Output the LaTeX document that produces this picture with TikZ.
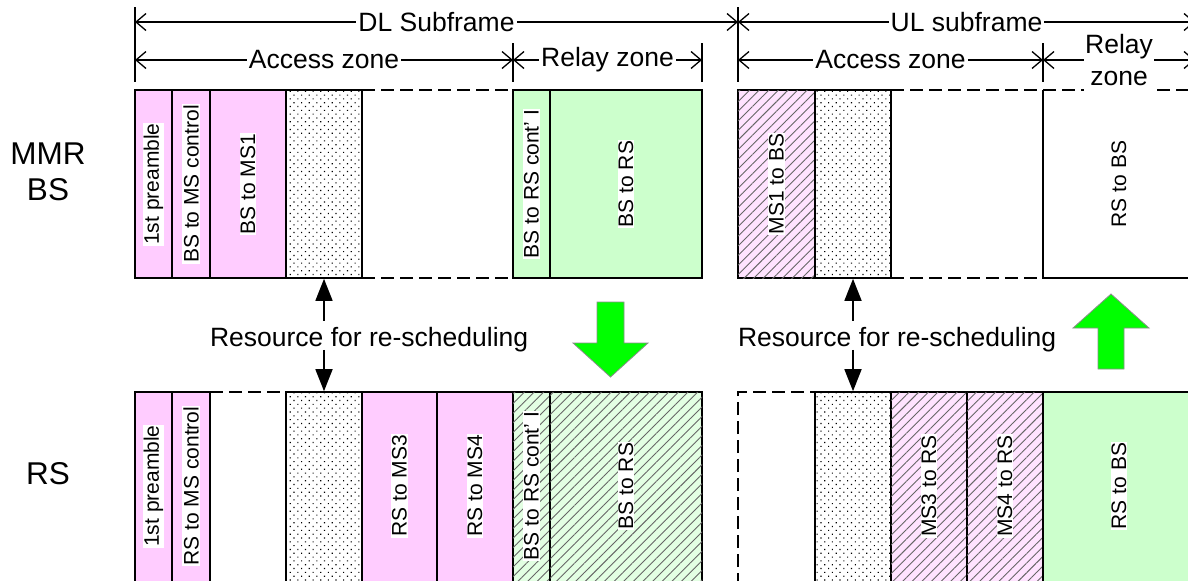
\documentclass[tikz,border=0pt]{standalone}
\usepackage{fontspec}
\setmainfont{Liberation Sans}
\usetikzlibrary{arrows.meta}
\usetikzlibrary{patterns.meta}
\definecolor{slotpink}{HTML}{FFCCFF}
\definecolor{slotgreen}{HTML}{CCFFCC}
\definecolor{bigarrow}{HTML}{00FF00}

\begin{document}
\begin{tikzpicture}[x=0.5pt, y=-0.5pt]
                \tikzstyle{slot} = [draw=black, line width=0.8pt, fill=#1]
                \tikzstyle{hatched} = [slot=#1!55!white, postaction={pattern={Lines[angle=45, distance=3.4pt, line width=0.45pt]}, pattern color=black!60}]
                \tikzstyle{spare} = [draw=black, line width=0.8pt, fill=white, inner sep=0pt, minimum width=38pt, postaction={pattern={Dots[angle=45, distance=2.7pt, radius=0.4pt]}, pattern color=black}]
                \tikzstyle{gap} = [draw=black, line width=0.8pt, dash pattern=on 6.5pt off 3pt]
                \tikzstyle{lbl} = [rotate=90, fill=white, inner sep=0.4pt, font=\fontsize{10.5}{12}\selectfont]
                \tikzstyle{dim} = [line width=0.65pt, {Straight Barb[length=5pt, width=8.5pt]}-{Straight Barb[length=5pt, width=8.5pt]}]
                \tikzstyle{dimtxt} = [fill=white, inner xsep=1pt, inner ysep=0pt, font=\fontsize{13.25}{16}\selectfont]
                \tikzstyle{restxt} = [anchor=west, font=\fontsize{13.25}{16}\selectfont]
                \tikzstyle{res} = [line width=0.8pt, -{Triangle[length=11pt, width=8.5pt]}]
                \tikzstyle{turn} = [fill=bigarrow, draw=black!45, line width=0.4pt]
                \useasboundingbox (0,0) rectangle (1188,580);
                \clip (0,0) rectangle (1188,580);
                \node[align=center, font=\fontsize{15.75}{18}\selectfont] (mmr) at (48,172) {MMR\\BS};
                \node[font=\fontsize{15.75}{18}\selectfont] (rs) at (48,474) {RS};
                \draw[gap] (362,90) -- (513,90);
                \draw[gap] (362,278) -- (513,278);
                \draw[slot=slotpink] (135,90) rectangle (172,278);
                \draw[slot=slotpink] (172,90) rectangle (210,278);
                \draw[slot=slotpink] (210,90) rectangle (286,278);
                \node[spare, minimum height=94pt] (bsfreedl) at (324,184) {};
                \draw[slot=slotgreen] (513,90) rectangle (550,278);
                \draw[slot=slotgreen] (550,90) rectangle (702,278);
                \draw[hatched=slotpink] (738,90) rectangle (815,278);
                \node[spare, minimum height=94pt] (bsfreeul) at (853,184) {};
                \draw[gap] (891,90) -- (1200,90);
                \draw[gap] (891,278) -- (1043,278);
                \draw[line width=0.8pt] (1043,90) -- (1043,278) -- (1200,278);
                \node[lbl] (bspre) at (153.5,184) {1st preamble};
                \node[lbl] (bsctl) at (191,184) {BS to MS control};
                \node[lbl] (bsms1) at (248,184) {BS to MS1};
                \node[lbl] (bsrsc) at (531.5,184) {BS to RS cont’ I};
                \node[lbl] (bsrs) at (626,184) {BS to RS};
                \node[lbl] (ms1bs) at (776.5,184) {MS1 to BS};
                \node[lbl] (rsbsup) at (1119,184) {RS to BS};
                \draw[gap] (210,392) -- (286,392);
                \draw[slot=slotpink] (135,392) rectangle (172,586);
                \draw[slot=slotpink] (172,392) rectangle (210,586);
                \node[spare, minimum height=97pt] (rsfreedl) at (324,489) {};
                \draw[slot=slotpink] (362,392) rectangle (437,586);
                \draw[slot=slotpink] (437,392) rectangle (513,586);
                \draw[hatched=slotgreen] (513,392) rectangle (550,586);
                \draw[hatched=slotgreen] (550,392) rectangle (702,586);
                \draw[gap] (738,586) -- (738,392) -- (815,392);
                \node[spare, minimum height=97pt] (rsfreeul) at (853,489) {};
                \draw[hatched=slotpink] (891,392) rectangle (967,586);
                \draw[hatched=slotpink] (967,392) rectangle (1043,586);
                \draw[slot=slotgreen] (1043,392) rectangle (1200,586);
                \node[lbl] (rspre) at (153.5,486) {1st preamble};
                \node[lbl] (rsctl) at (191,486) {RS to MS control};
                \node[lbl] (rsms3) at (399.5,486) {RS to MS3};
                \node[lbl] (rsms4) at (475,486) {RS to MS4};
                \node[lbl] (rsrsc) at (531.5,486) {BS to RS cont’ I};
                \node[lbl] (rsrs) at (626,486) {BS to RS};
                \node[lbl] (ms3rs) at (929,486) {MS3 to RS};
                \node[lbl] (ms4rs) at (1005,486) {MS4 to RS};
                \node[lbl] (rsbsdn) at (1119,486) {RS to BS};
                \node[restxt] (resdl) at (203,340) {Resource for re-scheduling};
                \node[restxt] (resul) at (731,340) {Resource for re-scheduling};
                \draw[res] (resdl.north -| bsfreedl.south) -- (bsfreedl.south);
                \draw[res] ([yshift=-1.5pt]resdl.base -| rsfreedl.north) -- (rsfreedl.north);
                \draw[res] (resul.north -| bsfreeul.south) -- (bsfreeul.south);
                \draw[res] ([yshift=-1.5pt]resul.base -| rsfreeul.north) -- (rsfreeul.north);
                \draw[turn] (597,302) -- (624,302) -- (624,343) -- (648,343) -- (610.5,377) -- (573,343) -- (597,343) -- cycle;
                \draw[turn] (1111,294) -- (1149,328) -- (1124,328) -- (1124,369) -- (1098,369) -- (1098,328) -- (1073,328) -- cycle;
                \draw[line width=0.65pt] (135,7) -- (135,82);
                \draw[line width=0.65pt] (738,7) -- (738,82);
                \draw[line width=0.65pt] (1195,7) -- (1195,82);
                \draw[line width=0.65pt] (513,43) -- (513,82);
                \draw[line width=0.65pt] (702,43) -- (702,82);
                \draw[line width=0.65pt] (1043,43) -- (1043,82);
                \draw[dim] (135,22) -- (738,22) node[midway, dimtxt] (dlsub) {DL Subframe};
                \draw[dim] (738,22) -- (1195,22) node[midway, dimtxt] (ulsub) {UL subframe};
                \draw[dim] (135,60) -- (513,60) node[midway, dimtxt] (dlacc) {Access zone};
                \draw[dim] (513,60) -- (702,60) node[midway, dimtxt] (dlrel) {Relay zone};
                \draw[dim] (738,60) -- (1043,60) node[midway, dimtxt] (ulacc) {Access zone};
                \draw[dim] (1043,60) -- (1195,60) node[midway, dimtxt, align=center, inner ysep=3.5pt, inner xsep=0.5pt] (ulrel) {Relay\\zone};
\end{tikzpicture}
\end{document}
